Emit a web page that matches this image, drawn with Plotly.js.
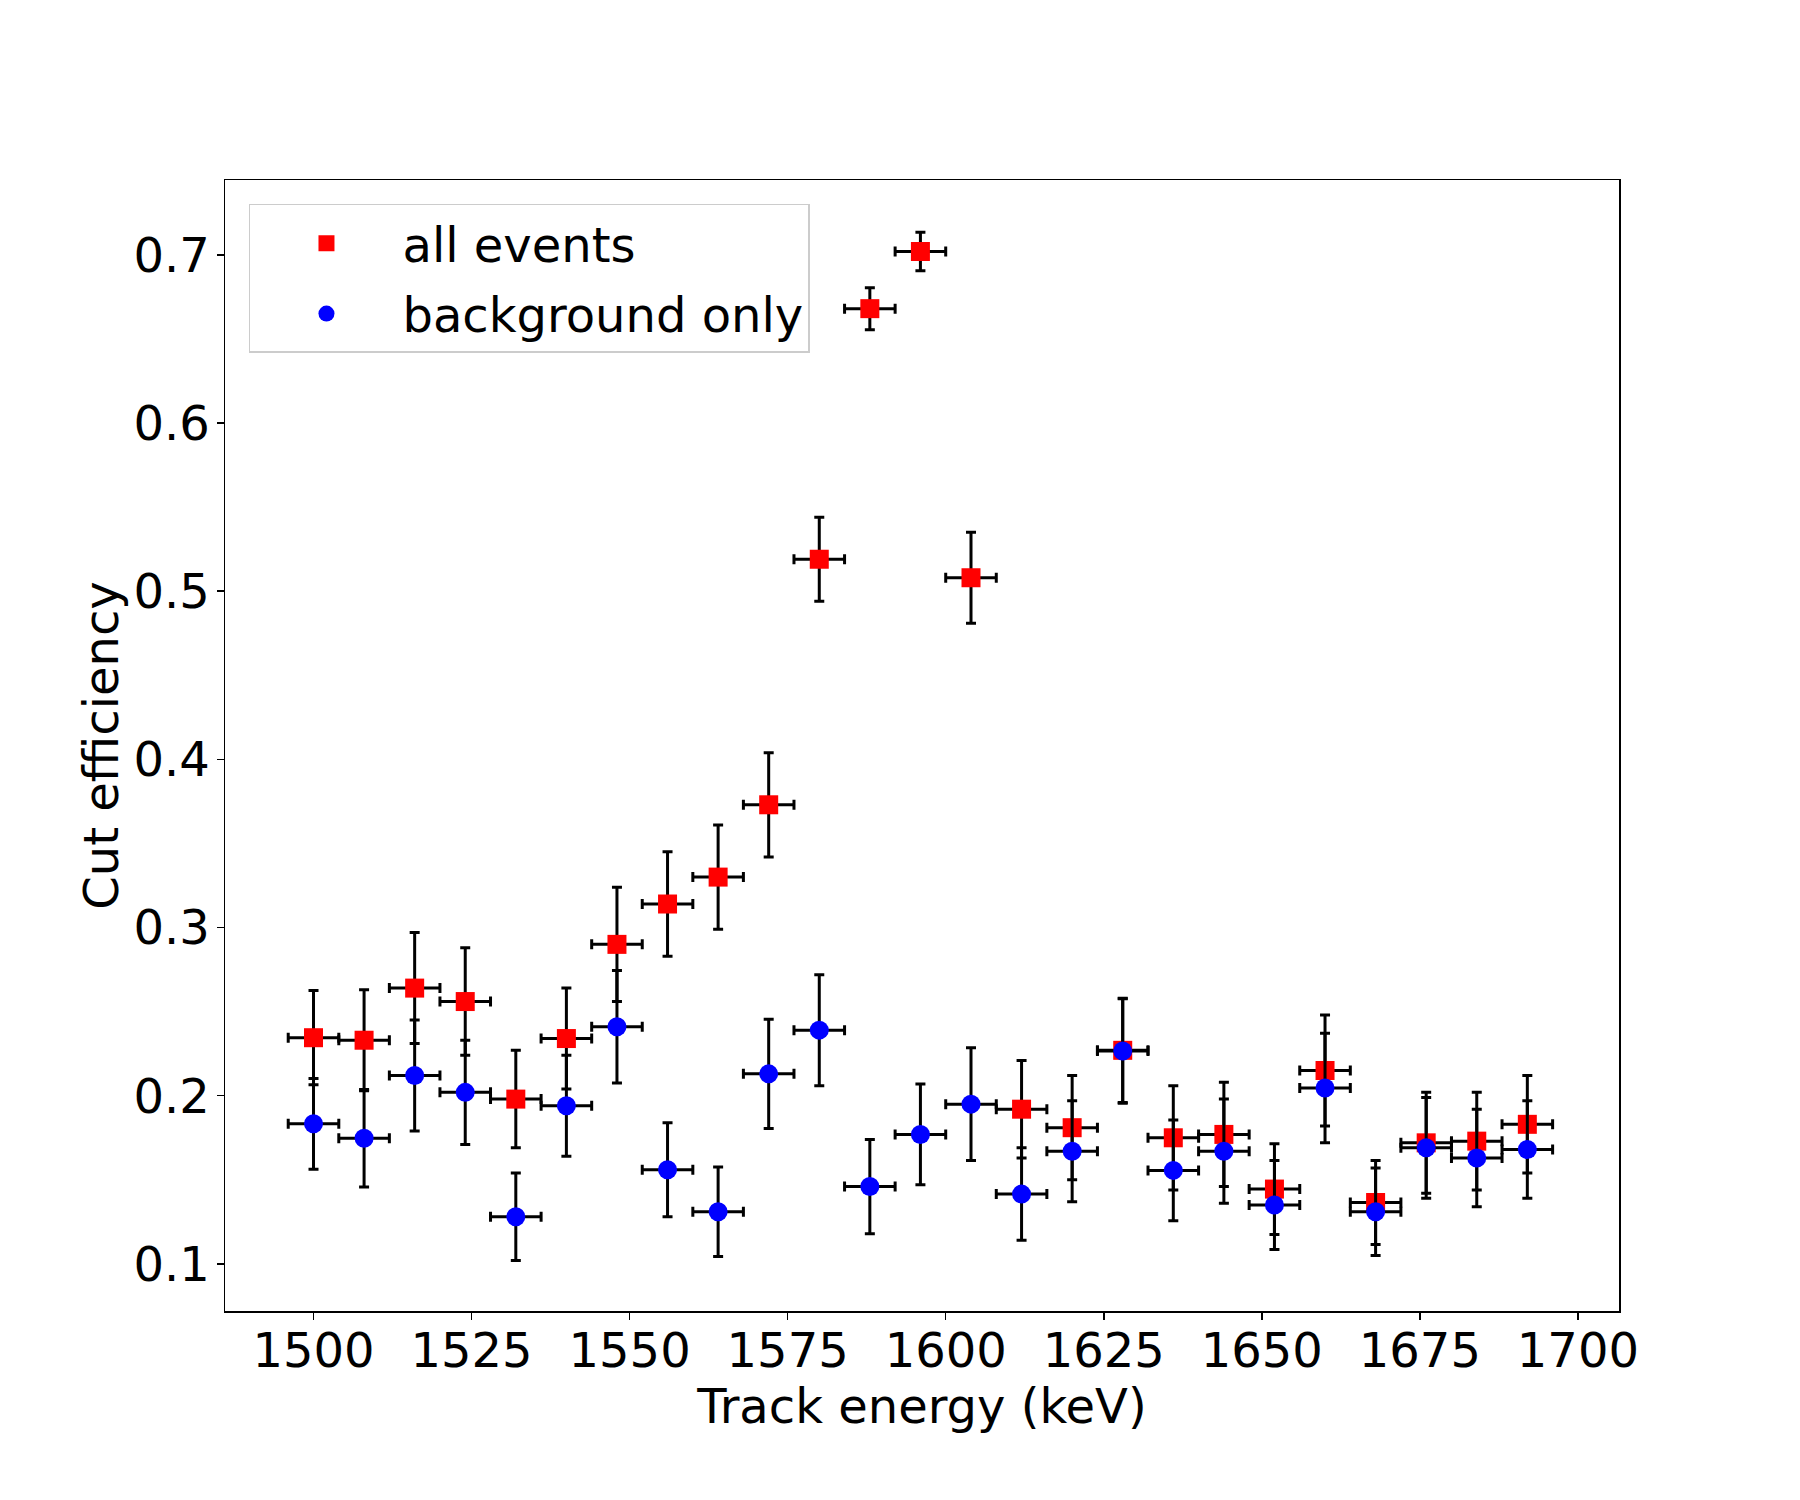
<!DOCTYPE html>
<html>
<head>
<meta charset="utf-8">
<script src="https://cdn.plot.ly/plotly-3.0.1.min.js"></script>
<style>html,body{margin:0;padding:0;background:#fff;}#chart{width:1800px;height:1500px;}</style>
</head>
<body>
<div id="chart"></div>
<script>
const energy = [1500,1508,1516,1524,1532,1540,1548,1556,1564,1572,1580,1588,1596,1604,1612,1620,1628,1636,1644,1652,1660,1668,1676,1684,1692];
const energyErr = [4,4,4,4,4,4,4,4,4,4,4,4,4,4,4,4,4,4,4,4,4,4,4,4,4];

const allEvents = [0.2345,0.233,0.264,0.256,0.198,0.234,0.290,0.314,0.330,0.373,0.519,0.668,0.702,0.508,0.192,0.181,0.227,0.175,0.177,0.1445,0.215,0.1365,0.172,0.173,0.183];
const allEventsErr = [0.028,0.030,0.033,0.032,0.029,0.030,0.034,0.031,0.031,0.031,0.025,0.0125,0.0115,0.027,0.029,0.031,0.031,0.031,0.031,0.027,0.033,0.025,0.030,0.029,0.029];

const bkgOnly = [0.1833,0.1747,0.212,0.202,0.128,0.194,0.241,0.156,0.131,0.213,0.239,0.146,0.177,0.195,0.1415,0.167,0.2266,0.1556,0.167,0.135,0.2046,0.131,0.169,0.163,0.168];
const bkgOnlyErr = [0.027,0.029,0.033,0.031,0.026,0.030,0.0335,0.028,0.0266,0.0325,0.033,0.028,0.030,0.0335,0.0275,0.030,0.031,0.030,0.031,0.0265,0.0326,0.026,0.030,0.029,0.029];

const seriesNames = ['all events', 'background only'];

const errStyle = {color:'black', thickness:3, width:5};

const traces = [
  {
    x: energy, y: allEvents, name: seriesNames[0], type:'scatter', mode:'markers', legendgroup:'a',
    marker:{symbol:'square', color:'#ff0000', size:19},
    error_x: Object.assign({type:'data', array: energyErr, visible:true}, errStyle),
    error_y: Object.assign({type:'data', array: allEventsErr, visible:true}, errStyle)
  },
  {
    x: energy, y: bkgOnly, name: seriesNames[1], type:'scatter', mode:'markers', legendgroup:'b',
    marker:{symbol:'circle', color:'#0000ff', size:19},
    error_x: Object.assign({type:'data', array: energyErr, visible:true}, errStyle),
    error_y: Object.assign({type:'data', array: bkgOnlyErr, visible:true}, errStyle)
  }
];

const layout = {
  width:1800, height:1500,
  paper_bgcolor:'#ffffff', plot_bgcolor:'#ffffff',
  font:{family:'DejaVu Sans', size:48, color:'#000000'},
  margin:{l:225, r:181, t:180, b:189, pad:0},
  showlegend:true,
  legend:{
    x:0.0172, y:0.9788, xanchor:'left', yanchor:'top',
    bgcolor:'rgba(255,255,255,0.8)', bordercolor:'#cccccc', borderwidth:1.5,
    font:{family:'DejaVu Sans', size:48, color:'#000000'},
    itemwidth:142, tracegroupgap:5
  },
  xaxis:{
    range:[1486, 1706.5],
    tickmode:'array', tickvals:[1500,1525,1550,1575,1600,1625,1650,1675,1700],
    ticks:'outside', ticklen:7, tickwidth:1.5, tickcolor:'#000',
    ticklabelstandoff:-10,
    showline:true, linecolor:'#000', linewidth:1.5, mirror:true,
    showgrid:false, zeroline:false,
    tickfont:{family:'DejaVu Sans', size:48, color:'#000'},
    title:{text:'Track energy (keV)', font:{family:'DejaVu Sans', size:48, color:'#000'}, standoff:10}
  },
  yaxis:{
    range:[0.072, 0.7445],
    tickmode:'array', tickvals:[0.1,0.2,0.3,0.4,0.5,0.6,0.7],
    ticktext:['0.1','0.2','0.3','0.4','0.5','0.6','0.7'],
    ticks:'outside', ticklen:7, tickwidth:1.5, tickcolor:'#000',
    ticklabelstandoff:-3,
    showline:true, linecolor:'#000', linewidth:1.5, mirror:true,
    showgrid:false, zeroline:false,
    tickfont:{family:'DejaVu Sans', size:48, color:'#000'},
    title:{text:'Cut efficiency', font:{family:'DejaVu Sans', size:48, color:'#000'}, standoff:0}
  }
};

Plotly.newPlot('chart', traces, layout, {displayModeBar:false, staticPlot:true});
</script>
</body>
</html>
